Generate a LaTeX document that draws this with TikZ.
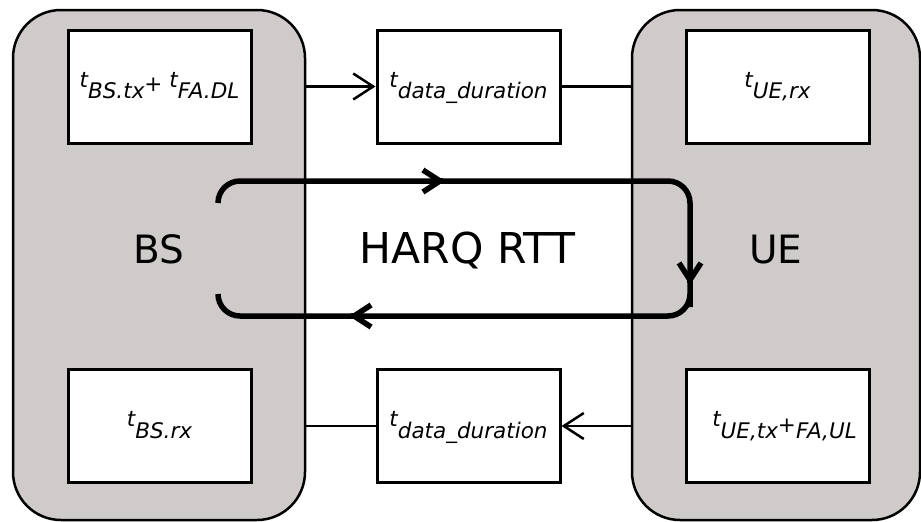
\documentclass[tikz,border=0pt]{standalone}
\usepackage{fontspec}
\setmainfont{DejaVu Sans}
\usetikzlibrary{arrows.meta}
\definecolor{panelgray}{RGB}{208,203,203}
\newcommand\lowr[1]{\raisebox{-11.5pt}{\itshape #1}}
\begin{document}
\begin{tikzpicture}[x=1pt,y=-1pt,
  panel/.style={draw, line width=2.5pt, fill=panelgray, rounded corners=48pt,
    minimum height=510pt, inner sep=0pt},
  tbox/.style={draw, line width=3pt, fill=white, minimum width=183pt,
    minimum height=113pt, inner sep=0pt, text height=14pt, text depth=13pt,
    font=\fontsize{21.5}{25}\selectfont\itshape},
  biglbl/.style={anchor=base, inner sep=0pt, font=\fontsize{39}{44}\selectfont},
  harqlbl/.style={anchor=base, inner sep=0pt, font=\fontsize{42.5}{48}\selectfont},
  conn/.style={line width=2.5pt},
  tipc/.style={-{Straight Barb[length=20pt,width=26pt]}},
  harq/.style={line width=5.5pt},
  tiph/.style={-{Straight Barb[length=17pt,width=22pt]}}
]
\useasboundingbox (0,0) rectangle (921,522);
% containers
\node[panel, minimum width=292pt] (bs) at (159,265) {};
\node[panel, minimum width=288pt] (ue) at (776,265) {};
% labels
\node[biglbl] (bslbl) at (159,263) {BS};
\node[biglbl] (uelbl) at (776,263) {UE};
\node[harqlbl] (harqlbl) at (467.5,263) {HARQ RTT};
% boxes
\node[tbox] (b1) at (159.5,86.5) {t\lowr{BS.tx}\raisebox{-4pt}{\upshape +} t\lowr{FA.DL}};
\node[tbox] (d1) at (468.5,86.5) {t\lowr{data\_duration}};
\node[tbox] (r1) at (777.5,86.5) {t\lowr{UE,rx}};
\node[tbox] (b2) at (159.5,426) {t\lowr{BS.rx}};
\node[tbox] (d2) at (468.5,426) {t\lowr{data\_duration}};
\node[tbox] (r2) at (777.5,426) {\hspace*{14pt}t\lowr{UE,tx}\raisebox{-5.5pt}{\upshape +}\lowr{FA,UL}};
% connectors
\draw[conn, tipc] (bs.east |- d1.west) -- (d1.west);
\draw[conn] (d1.east) -- (ue.west |- d1.east);
\draw[conn, tipc] (ue.west |- d2.east) -- (d2.east);
\draw[conn] (d2.west) -- (bs.east |- d2.west);
% HARQ loop
\coordinate (l1) at (218,203);
\coordinate (a1) at (445,181);
\coordinate (a2) at (690,285);
\coordinate (a3) at (349,316);
\coordinate (l2) at (218,294);
\draw[harq, rounded corners=22pt] (l1) |- (a1) -| (a2) |- (a3) -| (l2);
\draw[harq, tiph] ([xshift=-2pt]a1) -- (a1);
\draw[harq, tiph] ([yshift=2pt]a2) -- (a2);
\draw[harq, tiph] ([xshift=2pt]a3) -- (a3);
\end{tikzpicture}
\end{document}
